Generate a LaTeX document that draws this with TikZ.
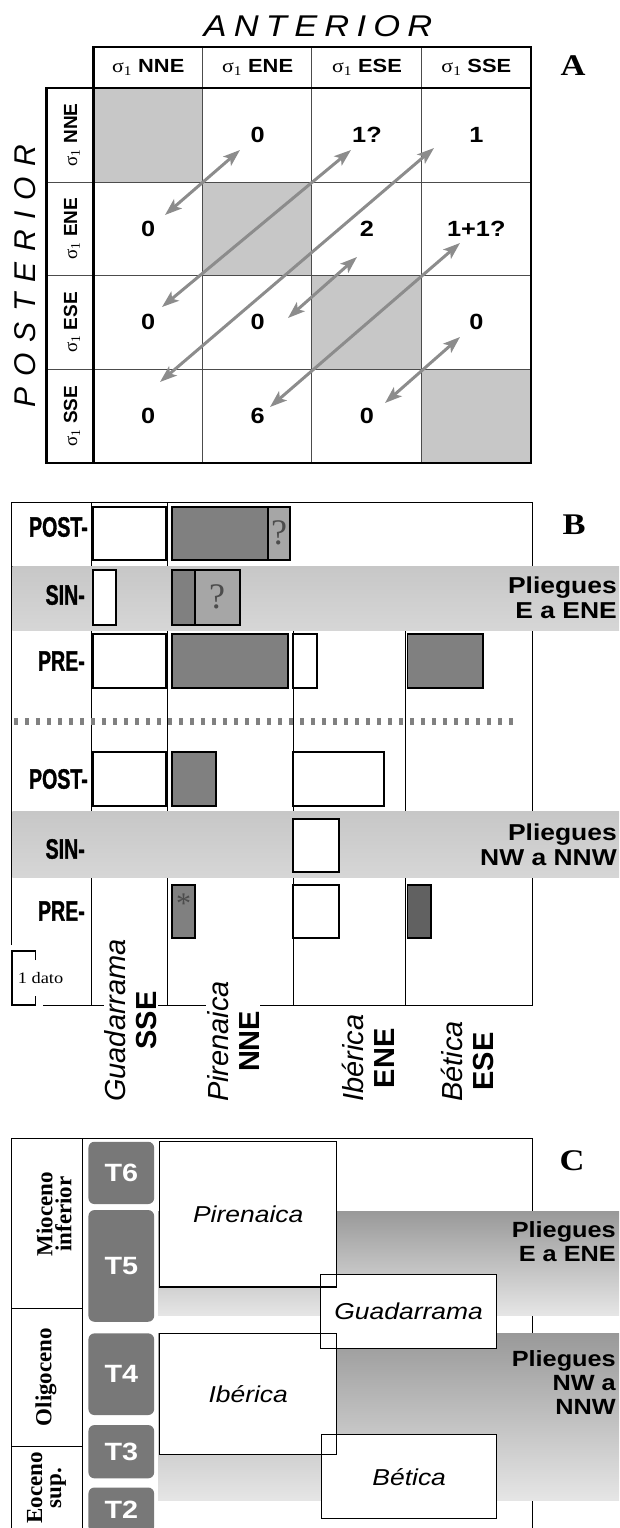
\documentclass[tikz,border=0pt]{standalone}
\usepackage{fontspec}
\setmainfont{Liberation Serif}
\setsansfont{Liberation Sans}
\newfontfamily\widesans{Liberation Sans}[FakeStretch=1.15]
\newfontfamily\wideserif{Liberation Serif}[FakeStretch=1.15]
\newfontfamily\narrowsans{Liberation Sans}[FakeStretch=0.7,FakeBold=1.2]
\newfontfamily\spacedsans{Liberation Sans}[FakeStretch=1.15,LetterSpace=24]
\newfontfamily\spacedsansv{Liberation Sans}[LetterSpace=36]
\usetikzlibrary{arrows.meta,positioning}
\newcommand{\sigh}[1]{{\wideserif σ\textsubscript{1}}\ \textbf{#1}}
\newcommand{\sigv}[1]{{\rmfamily σ\textsubscript{1}}\ \textbf{#1}}

\begin{document}
\begin{tikzpicture}[x=1pt, y=-1pt,
  thinline/.style={line width=1pt, draw=black!70},
  thickline/.style={line width=2.4pt},
  diagcell/.style={fill=black!22},
  headtext/.style={font=\widesans\fontsize{19}{22}\selectfont},
  rowtext/.style={font=\sffamily\fontsize{19}{22}\selectfont, rotate=90},
  cellnum/.style={font=\widesans\bfseries\fontsize{22}{24}\selectfont},
  pairarrow/.style={{Stealth[length=17pt,width=12pt,inset=4pt]}-{Stealth[length=17pt,width=12pt,inset=4pt]}, line width=3pt, draw=black!45},
  paneltag/.style={font=\wideserif\bfseries\fontsize{30}{32}\selectfont},
  bandB/.style={top color=black!22, bottom color=black!16},
  bandC/.style={top color=black!40, bottom color=black!10},
  whitebar/.style={draw, line width=1.8pt, fill=white},
  darkbar/.style={draw, line width=1.8pt, fill=black!50},
  doubtbar/.style={draw, line width=1.8pt, fill=black!35},
  sepline/.style={line width=7pt, draw=black!50, dash pattern=on 4pt off 7pt},
  rowlabel/.style={font=\narrowsans\bfseries\fontsize{28}{30}\selectfont, anchor=east, inner sep=0pt},
  folds/.style={font=\widesans\bfseries\fontsize{23}{25}\selectfont, align=right, anchor=east, inner sep=0pt},
  colname/.style={font=\sffamily\fontsize{29}{31}\selectfont, rotate=90, anchor=west, align=center, fill=white, inner sep=1pt},
  qmark/.style={font=\rmfamily\fontsize{36}{36}\selectfont, text=black!70, inner sep=0pt},
  tbox/.style={fill=black!53, rounded corners=6pt, minimum width=65.7pt, inner sep=0pt, text=white, font=\widesans\bfseries\fontsize{25}{27}\selectfont},
  regbox/.style={fill=white, inner sep=0pt, font=\widesans\itshape\fontsize{23}{25}\selectfont},
  epoch/.style={font=\bfseries\fontsize{23}{19}\selectfont, rotate=90, align=center}]
  \useasboundingbox (0,0) rectangle (619,1528);

  \node[font=\spacedsans\itshape\fontsize{30}{32}\selectfont] (ant) at (318,26) {ANTERIOR};
  \node[font=\spacedsansv\itshape\fontsize{30}{32}\selectfont, rotate=90] (post) at (25,276) {POSTERIOR};
  \node[paneltag] (tagA) at (573,66) {A};

  \foreach \i in {1,...,4}
    \fill[diagcell] ({93.6+109.35*(\i-1)},{88+93.75*(\i-1)}) rectangle ({93.6+109.35*\i},{88+93.75*\i});
  \foreach \x in {202.5,311.5,421.6}
    \draw[thinline] (\x,47) -- (\x,463);
  \foreach \y in {182,275,369}
    \draw[thinline] (46.6,\y) -- (531,\y);
  \draw[thickline] (93.6,463) -- (93.6,47) -- (531,47) -- (531,463) -- (46.6,463) -- (46.6,88) -- (531,88);

  \foreach \d [count=\i] in {NNE,ENE,ESE,SSE}
    \node[headtext] (h\i) at ({93.6+109.35*(\i-0.5)},67.5) {\sigh{\d}};
  \foreach \d [count=\j] in {NNE,ENE,ESE,SSE}
    \node[rowtext] (r\j) at (72,{88+93.75*(\j-0.5)}) {\sigv{\d}};
  \foreach \j/\i/\v in {1/2/0,1/3/1?,1/4/1,2/1/0,2/3/2,2/4/1+1?,3/1/0,3/2/0,3/4/0,4/1/0,4/2/6,4/3/0}
    \node[cellnum] (n\j\i) at ({93.6+109.35*(\i-0.5)},{88+93.75*(\j-0.5)}) {\v};

  \coordinate (u12) at (240,150);   \coordinate (u21) at (165,215);
  \coordinate (u13) at (351,150);   \coordinate (u31) at (162,307);
  \coordinate (u14) at (434,148);   \coordinate (u41) at (160,382);
  \coordinate (u23) at (357,257);   \coordinate (u32) at (288,318);
  \coordinate (u24) at (460,243);   \coordinate (u42) at (270,407);
  \coordinate (u34) at (460,337);   \coordinate (u43) at (385,403);
  \draw[pairarrow] (u12) -- (u21);
  \draw[pairarrow] (u13) -- (u31);
  \draw[pairarrow] (u14) -- (u41);
  \draw[pairarrow] (u23) -- (u32);
  \draw[pairarrow] (u24) -- (u42);
  \draw[pairarrow] (u34) -- (u43);

  \draw[thinline, draw=black] (11.8,945) -- (11.8,502.5) -- (532,502.5) -- (532,1005) -- (43,1005);
  \foreach \x in {91.6,167}
    \draw[thinline, draw=black] (\x,502.5) -- (\x,1005);
  \foreach \x in {293.3,405.8}
    \draw[thinline, draw=black] (\x,630) -- (\x,1005);
  \fill[bandB] (12.4,566) rectangle (619,630);
  \fill[bandB] (12.4,811.7) rectangle (619,877.3);
  \draw[sepline] (13.8,721.7) -- (515,721.7);

  \foreach \a/\b/\c/\d in {92.8/506.7/165.8/560, 92.8/570/115.7/625, 92.8/634.3/165.8/687.7,
      293.3/634.3/317/687.7, 92.8/752.3/165.8/805.7, 293.3/752.3/384/805.7,
      293.3/819.3/338.7/871.7, 293.3/885/338.7/938.3}
    \draw[whitebar] (\a,\b) rectangle (\c,\d);
  \foreach \a/\b/\c/\d in {171.7/506.7/267.7/560, 171.7/570/194.6/625, 171.7/634.3/288.2/687.7,
      407.4/634.3/483.2/687.7, 171.7/752.3/216/805.7, 171.7/885/194.6/938.3}
    \draw[darkbar] (\a,\b) rectangle (\c,\d);
  \draw[darkbar, fill=black!62] (407.4,885) rectangle (431,938.3);
  \draw[doubtbar] (267.7,506.7) rectangle (290.2,560);
  \draw[doubtbar] (194.6,570) rectangle (239.6,625);
  \node[qmark] (q1) at (279,533) {?};
  \node[qmark] (q2) at (217,597) {?};
  \node[qmark, font=\rmfamily\fontsize{30}{30}\selectfont] (ast) at (183.6,904) {*};

  \node[rowlabel] (post1) at (88,527) {POST-};
  \node[rowlabel] (sin1) at (85,595) {SIN-};
  \node[rowlabel] (pre1) at (85,661) {PRE-};
  \node[rowlabel] (post2) at (88,779) {POST-};
  \node[rowlabel] (sin2) at (85,849) {SIN-};
  \node[rowlabel] (pre2) at (85,911) {PRE-};
  \node[folds] (fold1) at (617,598) {Pliegues\\E a ENE};
  \node[folds] (fold2) at (617,845) {Pliegues\\NW a NNW};
  \node[paneltag] (tagB) at (574,525) {B};

  \draw[line width=1.8pt] (35.5,960) -- (35.5,951) -- (11.8,951) -- (11.8,1005) -- (35.5,1005) -- (35.5,996);
  \node[font=\wideserif\fontsize{16}{18}\selectfont, inner sep=0pt] (dato) at (40.5,978) {1 dato};
  \node[colname] (cgua) at (131,1103) {\textit{Guadarrama}\\\textbf{SSE}};
  \node[colname] (cpir) at (233,1103) {\textit{Pirenaica}\\\textbf{NNE}};
  \node[colname] (cibe) at (368.5,1103) {\textit{Ibérica}\\\textbf{ENE}};
  \node[colname] (cbet) at (467,1103) {\textit{Bética}\\\textbf{ESE}};

  \draw[thinline, draw=black] (11.8,1528) -- (11.8,1138) -- (532,1138) -- (532,1528);
  \draw[thinline, draw=black] (82.9,1138) -- (82.9,1528);
  \draw[thinline, draw=black] (11.8,1308.3) -- (82.9,1308.3) (11.8,1446.7) -- (82.9,1446.7);
  \node[epoch] (mio) at (54,1214) {Mioceno\\inferior};
  \node[epoch] (oli) at (46,1377) {Oligoceno};
  \node[epoch] (eoc) at (46.5,1488) {Eoceno\\sup.};

  \fill[bandC] (158,1211) rectangle (619,1315);
  \fill[bandC] (158,1333) rectangle (619,1500);

  \node[tbox, minimum height=62.3pt] (t6) at (121.3,1172.9) {T6};
  \node[tbox, minimum height=111.7pt] (t5) at (121.3,1265.9) {T5};
  \node[tbox, minimum height=81.7pt] (t4) at (121.3,1374.2) {T4};
  \node[tbox, minimum height=53.3pt] (t3) at (121.3,1451.7) {T3};
  \node[tbox, minimum height=45pt] (t2) at (121.3,1510) {T2};

  \node[regbox, minimum width=176.4pt, minimum height=145pt] (pir) at (248.2,1214.2) {Pirenaica};
  \node[regbox, minimum width=176.4pt, minimum height=120pt] (ibe) at (248.2,1394) {Ibérica};
  \node[regbox, minimum width=175.6pt, minimum height=73.3pt] (gua) at (408.6,1311.7) {Guadarrama};
  \node[regbox, minimum width=174.8pt, minimum height=83.3pt] (bet) at (409.2,1476.7) {Bética};
  \foreach \b in {pir,ibe,gua,bet}
    \draw[line width=1.2pt] (\b.south west) rectangle (\b.north east);

  \node[folds, font=\widesans\bfseries\fontsize{22}{24}\selectfont] (fold3) at (616,1242) {Pliegues\\E a ENE};
  \node[folds, font=\widesans\bfseries\fontsize{22}{24}\selectfont] (fold4) at (616,1383) {Pliegues\\NW a\\NNW};
  \node[paneltag] (tagC) at (572,1161) {C};
\end{tikzpicture}
\end{document}
